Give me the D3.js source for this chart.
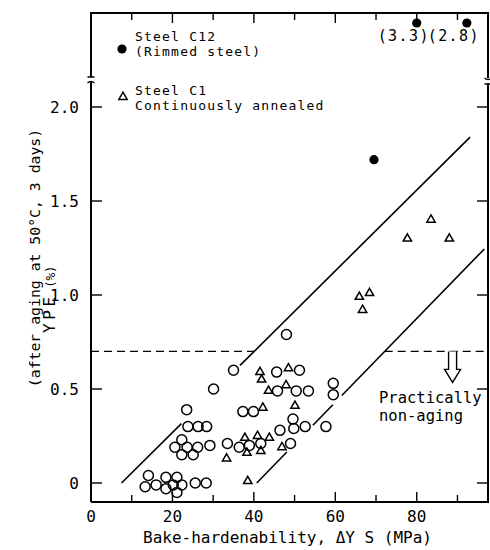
<!DOCTYPE html>
<html>
<head>
<meta charset="utf-8">
<script src="https://cdn.jsdelivr.net/npm/d3@7"></script>
<style>
  body { margin: 0; background: #fff; }
  text { font-family: "DejaVu Sans Mono", monospace; fill: #000; }
</style>
</head>
<body>
<div id="chart"></div>
<script>
// Steel C12 (rimmed steel) - filled circles
var c12X = [69.5];
var c12Y = [1.72];
// C12 points off the scale, drawn above the axis break
var c12OffX = [80.0, 92.3];
var c12OffY = [3.3, 2.8];

// open circles
var openX = [14.1, 13.3, 16.0, 18.4, 18.4, 21.1, 20.2, 22.3, 21.1, 25.6, 28.3,
             22.3, 20.6, 23.6, 26.2, 22.3, 25.1, 29.2,
             23.5, 23.8, 26.3, 28.4,
             30.1, 35.0, 33.5, 36.4, 38.9, 41.7, 37.3, 39.9,
             45.6, 51.2, 45.8, 50.4, 53.4, 48.0, 49.6, 49.8, 46.4, 52.6, 57.7,
             59.5, 59.5, 49.0];
var openY = [0.04, -0.02, -0.01, 0.03, -0.03, 0.03, -0.01, -0.01, -0.05, 0.0, 0.0,
             0.23, 0.19, 0.19, 0.19, 0.15, 0.15, 0.20,
             0.39, 0.30, 0.30, 0.30,
             0.50, 0.60, 0.21, 0.19, 0.20, 0.21, 0.38, 0.38,
             0.59, 0.60, 0.49, 0.49, 0.49, 0.79, 0.34, 0.29, 0.28, 0.30, 0.30,
             0.53, 0.47, 0.21];

// Steel C1 (continuously annealed) - open triangles
var c1X = [41.5, 41.9, 48.5, 43.6, 47.9, 42.2, 50.1, 37.8, 40.9, 43.8, 38.3,
           41.7, 46.9, 33.3, 38.5, 65.9, 68.4, 66.7, 77.7, 83.5, 88.0];
var c1Y = [0.59, 0.55, 0.61, 0.49, 0.52, 0.40, 0.41, 0.24, 0.25, 0.24, 0.16,
           0.17, 0.19, 0.13, 0.01, 0.99, 1.01, 0.92, 1.30, 1.40, 1.30];

// boundary lines: [x0, y0, x1, y1] and the drawn pieces (x ranges)
var upperLine = [7.5, 0, 93.1, 1.84];
var upperPieces = [[7.5, 22.2], [36.6, 93.1]];
var lowerLine = [40.7, 0, 96.6, 1.245];
var lowerPieces = [[40.7, 48.1], [54.5, 59.4], [61.6, 96.6]];
var agingLimit = 0.70;

var xTicks = [0, 20, 40, 60, 80];
var xMinor = [10, 30, 50, 70, 90];
var yTicks = [0, 0.5, 1.0, 1.5, 2.0];
var yTickLabels = ["0", "0.5", "1.0", "1.5", "2.0"];

var W = 490, H = 550;
var box = {left: 91, right: 488, top: 13, bottom: 502};

var svg = d3.select("#chart").append("svg")
  .attr("width", W).attr("height", H);

var x = d3.scaleLinear().domain([0, 97.5]).range([box.left, box.right]);
var y = d3.scaleLinear().domain([0, 2]).range([483, 107]);
var yOff = box.top + 10;

function lineY(l, xv) { return l[1] + (l[3] - l[1]) * (xv - l[0]) / (l[2] - l[0]); }
function lineX(l, yv) { return l[0] + (l[2] - l[0]) * (yv - l[1]) / (l[3] - l[1]); }

var ink = svg.append("g").attr("stroke", "#000").attr("fill", "none");

// frame with axis break
var breakL = [77, 82], breakR = [78, 83];
ink.append("path").attr("stroke-width", 2)
  .attr("d", "M" + box.left + "," + box.bottom + "V" + breakL[1] +
             "M" + box.left + "," + breakL[0] + "V" + box.top +
             "H" + box.right + "V" + breakR[0] +
             "M" + box.right + "," + breakR[1] + "V" + box.bottom + "H" + box.left);
ink.append("path").attr("stroke-width", 1.3)
  .attr("d", "M" + (box.left - 3.5) + "," + breakL[0] + "h7" +
             "M" + (box.left - 3.5) + "," + (breakL[1] + 1) + "q3.5,-3 7,0" +
             "M" + (box.right - 3.5) + "," + breakR[0] + "q3.5,3 7,0" +
             "M" + (box.right - 3.5) + "," + (breakR[1] + 1) + "h7");

// x ticks bottom and top
var ticksG = ink.append("g").attr("stroke-width", 1.4);
xTicks.concat(xMinor).forEach(function (v) {
  if (v === 0) return;
  var len = xTicks.indexOf(v) >= 0 ? 10 : 7;
  ticksG.append("line").attr("x1", x(v)).attr("x2", x(v))
    .attr("y1", box.bottom).attr("y2", box.bottom - len);
  ticksG.append("line").attr("x1", x(v)).attr("x2", x(v))
    .attr("y1", box.top).attr("y2", box.top + len);
});
// y ticks left and right
yTicks.forEach(function (v) {
  ticksG.append("line").attr("x1", box.left).attr("x2", box.left + 11)
    .attr("y1", y(v)).attr("y2", y(v));
  ticksG.append("line").attr("x1", box.right).attr("x2", box.right - 11)
    .attr("y1", y(v)).attr("y2", y(v));
});

// tick labels
svg.append("g").selectAll("text").data(xTicks).enter().append("text")
  .attr("x", function (d) { return x(d); })
  .attr("y", box.bottom + 20)
  .attr("text-anchor", "middle")
  .style("font-size", "16px")
  .text(function (d) { return d; });
svg.append("g").selectAll("text").data(yTicks).enter().append("text")
  .attr("x", box.left - 12)
  .attr("y", function (d) { return y(d); })
  .attr("dy", "0.36em")
  .attr("text-anchor", "end")
  .style("font-size", "16px")
  .text(function (d, i) { return yTickLabels[i]; });

// axis titles
svg.append("text")
  .attr("x", (box.left + box.right) / 2 - 2).attr("y", 543)
  .attr("text-anchor", "middle")
  .style("font-size", "16px")
  .text("Bake-hardenability, \u0394Y S  (MPa)");
var ypeTitle = svg.append("text")
  .attr("transform", "translate(55,333) rotate(-90)");
ypeTitle.append("tspan").style("font-size", "16px").attr("dx", "0 3.6 3.6").text("YPE");
ypeTitle.append("tspan").style("font-size", "13px").attr("dx", "9 -0.5 -0.5").text("(%)");
svg.append("text")
  .attr("transform", "translate(40,258) rotate(-90)")
  .attr("text-anchor", "middle")
  .style("font-size", "14.8px")
  .text("(after aging at 50\u00b0C, 3 days)");

// boundary lines
var lines = ink.append("g").attr("stroke-width", 1.6);
upperPieces.forEach(function (p) {
  lines.append("line")
    .attr("x1", x(p[0])).attr("y1", y(lineY(upperLine, p[0])))
    .attr("x2", x(p[1])).attr("y2", y(lineY(upperLine, p[1])));
});
lowerPieces.forEach(function (p) {
  lines.append("line")
    .attr("x1", x(p[0])).attr("y1", y(lineY(lowerLine, p[0])))
    .attr("x2", x(p[1])).attr("y2", y(lineY(lowerLine, p[1])));
});

// practically non-aging limit
var dash = ink.append("g").attr("stroke-width", 1.3).attr("stroke-dasharray", "8,5");
dash.append("line").attr("x1", x(0)).attr("x2", x(lineX(upperLine, agingLimit)))
  .attr("y1", y(agingLimit)).attr("y2", y(agingLimit));
dash.append("line").attr("x1", x(lineX(lowerLine, agingLimit))).attr("x2", x(97.5))
  .attr("y1", y(agingLimit)).attr("y2", y(agingLimit));

// hollow arrow pointing down
var ax = x(88.8), ay = y(agingLimit);
ink.append("path").attr("stroke-width", 1.4).attr("fill", "#fff")
  .attr("d", "M" + (ax - 4) + "," + ay + "V" + (ay + 18) + "H" + (ax - 8) +
             "L" + ax + "," + (ay + 31) + "L" + (ax + 8) + "," + (ay + 18) +
             "H" + (ax + 4) + "V" + ay);
var note = svg.append("text").style("font-size", "15.5px");
note.append("tspan").attr("x", 379).attr("y", 403).text("Practically");
note.append("tspan").attr("x", 379).attr("y", 421).text("non-aging");

// data points
var openData = openX.map(function (v, i) { return {x: v, y: openY[i]}; });
var c1Data = c1X.map(function (v, i) { return {x: v, y: c1Y[i]}; });
var c12Data = c12X.map(function (v, i) { return {x: v, y: c12Y[i]}; });
var c12OffData = c12OffX.map(function (v, i) { return {x: v, y: c12OffY[i]}; });

ink.append("g").attr("stroke-width", 1.5).selectAll("circle")
  .data(openData).enter().append("circle")
  .attr("cx", function (d) { return x(d.x); })
  .attr("cy", function (d) { return y(d.y); })
  .attr("r", 5);

var tri = d3.symbol().type(d3.symbolTriangle).size(30);
ink.append("g").attr("stroke-width", 1.5).selectAll("path")
  .data(c1Data).enter().append("path")
  .attr("d", tri)
  .attr("transform", function (d) { return "translate(" + x(d.x) + "," + y(d.y) + ")"; });

svg.append("g").selectAll("circle")
  .data(c12Data).enter().append("circle")
  .attr("cx", function (d) { return x(d.x); })
  .attr("cy", function (d) { return y(d.y); })
  .attr("r", 4.6).attr("fill", "#000");

svg.append("g").selectAll("circle")
  .data(c12OffData).enter().append("circle")
  .attr("cx", function (d) { return x(d.x); })
  .attr("cy", yOff)
  .attr("r", 4.6).attr("fill", "#000");
svg.append("g").selectAll("text")
  .data(c12OffData).enter().append("text")
  .attr("x", function (d) { return x(d.x) - 13; })
  .attr("y", yOff + 18)
  .attr("text-anchor", "middle")
  .style("font-size", "15px")
  .style("letter-spacing", "1.4px")
  .text(function (d) { return "(" + d3.format(".1f")(d.y) + ")"; });

// legend
svg.append("circle").attr("cx", 122).attr("cy", 49).attr("r", 4.6).attr("fill", "#000");
ink.append("path").attr("stroke-width", 1.5).attr("d", tri)
  .attr("transform", "translate(123,97)");
var legendItems = [["Steel C12", "(Rimmed steel)", 41], ["Steel C1", "Continuously annealed", 95]];
legendItems.forEach(function (d) {
  var t = svg.append("text")
    .style("font-size", "13px")
    .style("letter-spacing", "1.2px");
  t.append("tspan").attr("x", 135).attr("y", d[2]).text(d[0]);
  t.append("tspan").attr("x", 135).attr("y", d[2] + 15).text(d[1]);
});
</script>
</body>
</html>
